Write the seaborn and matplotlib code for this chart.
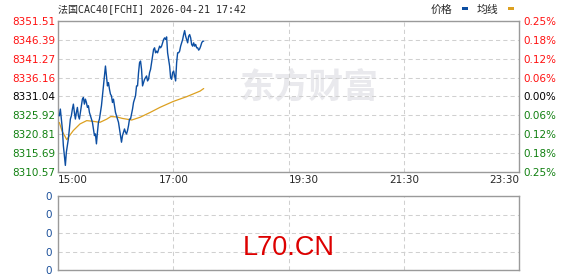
import numpy as np
import pandas as pd
import matplotlib
matplotlib.use("Agg")
import matplotlib.pyplot as plt
from matplotlib.patches import Rectangle
import seaborn as sns

# ---------------- data ----------------
title = "法国CAC40[FCHI] 2026-04-21 17:42"
x_tick_pos = [0, 120, 240, 360, 480]
x_tick_labels = ["15:00", "17:00", "19:30", "21:30", "23:30"]
y_ticks = [8310.57, 8315.69, 8320.81, 8325.92, 8331.04, 8336.16, 8341.27, 8346.39, 8351.51]
pct_labels = ["0.25%", "0.18%", "0.12%", "0.06%", "0.00%", "0.06%", "0.12%", "0.18%", "0.25%"]
price = [
    8325.8, 8327.63, 8324.93, 8322.24, 8317.75, 8315.06, 8312.36, 8315.95, 8317.75, 8319.55,
    8322.24, 8324.93, 8325.83, 8327.63, 8328.97, 8326.73, 8324.93, 8326.73, 8328.08, 8325.83,
    8324.93, 8326.73, 8328.53, 8330.32, 8330.77, 8328.97, 8330.32, 8329.42, 8328.08, 8328.53,
    8326.73, 8325.83, 8324.93, 8324.04, 8322.24, 8320.44, 8320.89, 8318.20, 8321.34, 8324.04,
    8324.93, 8326.73, 8328.53, 8331.22, 8333.91, 8336.61, 8339.30, 8336.61, 8333.91, 8334.81,
    8333.02, 8331.67, 8331.22, 8329.42, 8330.32, 8328.53, 8326.73, 8325.83, 8324.93, 8324.04,
    8322.24, 8320.44, 8318.65, 8320.44, 8321.34, 8322.24, 8321.34, 8320.89, 8321.79, 8323.14,
    8324.93, 8324.93, 8326.28, 8327.63, 8329.42, 8330.32, 8331.22, 8333.91, 8333.91, 8337.51,
    8340.20, 8340.65, 8338.40, 8333.91, 8334.81, 8335.71, 8336.16, 8336.61, 8335.26, 8335.71,
    8337.51, 8338.40, 8340.20, 8342.00, 8343.79, 8344.24, 8342.89, 8343.34, 8342.89, 8343.79,
    8344.69, 8344.24, 8344.69, 8345.59, 8346.49, 8346.93, 8346.49, 8347.20, 8342.89, 8341.10,
    8339.30, 8336.16, 8335.71, 8337.51, 8337.95, 8336.61, 8335.26, 8340.20, 8342.89, 8342.89,
    8343.34, 8344.69, 8345.59, 8346.49, 8347.83, 8348.91, 8347.38, 8346.49, 8345.59, 8347.38,
    8347.83, 8346.93, 8345.14, 8344.69, 8345.59, 8344.69, 8345.14, 8344.24, 8344.24, 8343.61,
    8343.97, 8344.69, 8345.59, 8346.04, 8346.04,
]
price_t_start, price_t_end = 1.4, 151.7
avg_t = [1.4, 4.2, 9.1, 12.5, 15.9, 22.9, 29.9, 36.8, 43.7, 50.7, 55.0, 61.1, 67.0, 71.5, 76.7,
         85.4, 95.8, 106.2, 120.0, 134.0, 147.9, 151.7]
avg = [8324.0, 8321.7, 8319.35, 8320.6, 8321.8, 8323.6, 8324.5, 8324.3, 8324.04, 8324.9, 8325.6,
       8325.5, 8325.1, 8324.9, 8324.66, 8325.4, 8326.7, 8328.1, 8329.7, 8331.0, 8332.5, 8333.2]
vol_tick_labels = ["0", "0", "0", "0", "0"]
prev_close = 8331.04

# ---------------- style ----------------
sns.set_style("white")
plt.rcParams["font.family"] = ["DejaVu Sans", "Noto Sans CJK SC"]

RED = "#ff1010"
GREEN = "#108010"
BLUE = "#0c4ea2"
ORANGE = "#dca020"
SPINE = "#9a9a9a"
GRID = "#d0d0d0"

W, H = 578, 276
fig = plt.figure(figsize=(W / 100, H / 100), dpi=100)
fig.patch.set_facecolor("white")

ax = fig.add_axes([58 / W, 104 / H, 461 / W, 151 / H])
ax2 = fig.add_axes([58 / W, 6 / H, 461 / W, 74 / H])

price_df = pd.DataFrame({
    "t": np.linspace(price_t_start, price_t_end, len(price)),
    "v": price,
})
avg_df = pd.DataFrame({"t": avg_t, "v": avg})

# watermark
ax.text(0.545, 0.56, "东方财富", transform=ax.transAxes, ha="center", va="center",
        fontsize=25, color="#e9e9ed", fontweight="bold",
        family=["Noto Sans CJK SC"], zorder=0.5)

sns.lineplot(data=avg_df, x="t", y="v", ax=ax, color=ORANGE, lw=0.9, sort=False,
             estimator=None, zorder=3)
sns.lineplot(data=price_df, x="t", y="v", ax=ax, color=BLUE, lw=1.0, sort=False,
             estimator=None, zorder=4)

for a in (ax, ax2):
    a.set_xlim(0, 480)
    a.set_xlabel("")
    a.set_ylabel("")
    for s in a.spines.values():
        s.set_color(SPINE)
        s.set_linewidth(1.0)
    a.set_xticks(x_tick_pos)
    a.grid(True, color=GRID, linestyle=(0, (4, 3)), linewidth=0.75)
    a.set_axisbelow(True)
    a.tick_params(length=0)

ax.set_ylim(y_ticks[0], y_ticks[-1])
ax.set_yticks(y_ticks)
ax.set_yticklabels([f"{v:.2f}" for v in y_ticks])
ax.tick_params(axis="y", pad=1.8, labelsize=7.5)
for lab, v in zip(ax.get_yticklabels(), y_ticks):
    lab.set_color(RED if v > prev_close + 0.01 else (GREEN if v < prev_close - 0.01 else "black"))

ax.set_xticklabels(x_tick_labels)
ax.tick_params(axis="x", pad=2.5, labelsize=7.5)
aligns = ["left", "center", "left", "center", "right"]
for lab, al in zip(ax.get_xticklabels(), aligns):
    lab.set_ha(al)

axr = ax.twinx()
axr.set_ylim(y_ticks[0], y_ticks[-1])
axr.set_yticks(y_ticks)
axr.set_yticklabels(pct_labels)
axr.tick_params(axis="y", length=0, pad=3, labelsize=7.5)
for s in axr.spines.values():
    s.set_visible(False)
for lab, v in zip(axr.get_yticklabels(), y_ticks):
    lab.set_color(RED if v > prev_close + 0.01 else (GREEN if v < prev_close - 0.01 else "black"))

# volume panel
ax2.set_ylim(0, 4)
ax2.set_yticks(range(5))
ax2.set_yticklabels(vol_tick_labels)
ax2.tick_params(axis="y", pad=4.5, labelsize=7.5, labelcolor="#1a4f9a")
ax2.set_xticklabels([])
ax2.text(0.5, 0.3, "L70.CN", transform=ax2.transAxes, ha="center", va="center",
         fontsize=19.5, color="#dd0000", family=["Liberation Sans"])

# title & legend
fig.text(58 / W, 1 - 9.5 / H, title, ha="left", va="center", fontsize=7.2,
         family=["DejaVu Sans Mono", "Noto Sans CJK SC"])
fig.text(431 / W, 1 - 9.5 / H, "价格", ha="left", va="center", fontsize=7.8,
         family=["Noto Sans CJK SC"])
fig.text(477 / W, 1 - 9.5 / H, "均线", ha="left", va="center", fontsize=7.8,
         family=["Noto Sans CJK SC"])
fig.add_artist(Rectangle((462 / W, 1 - 10 / H), 6 / W, 2.7 / H, transform=fig.transFigure,
                         color=BLUE, lw=0))
fig.add_artist(Rectangle((508 / W, 1 - 9.5 / H), 6 / W, 2.7 / H, transform=fig.transFigure,
                         color=ORANGE, lw=0))

fig.savefig("out.png", dpi=100)
